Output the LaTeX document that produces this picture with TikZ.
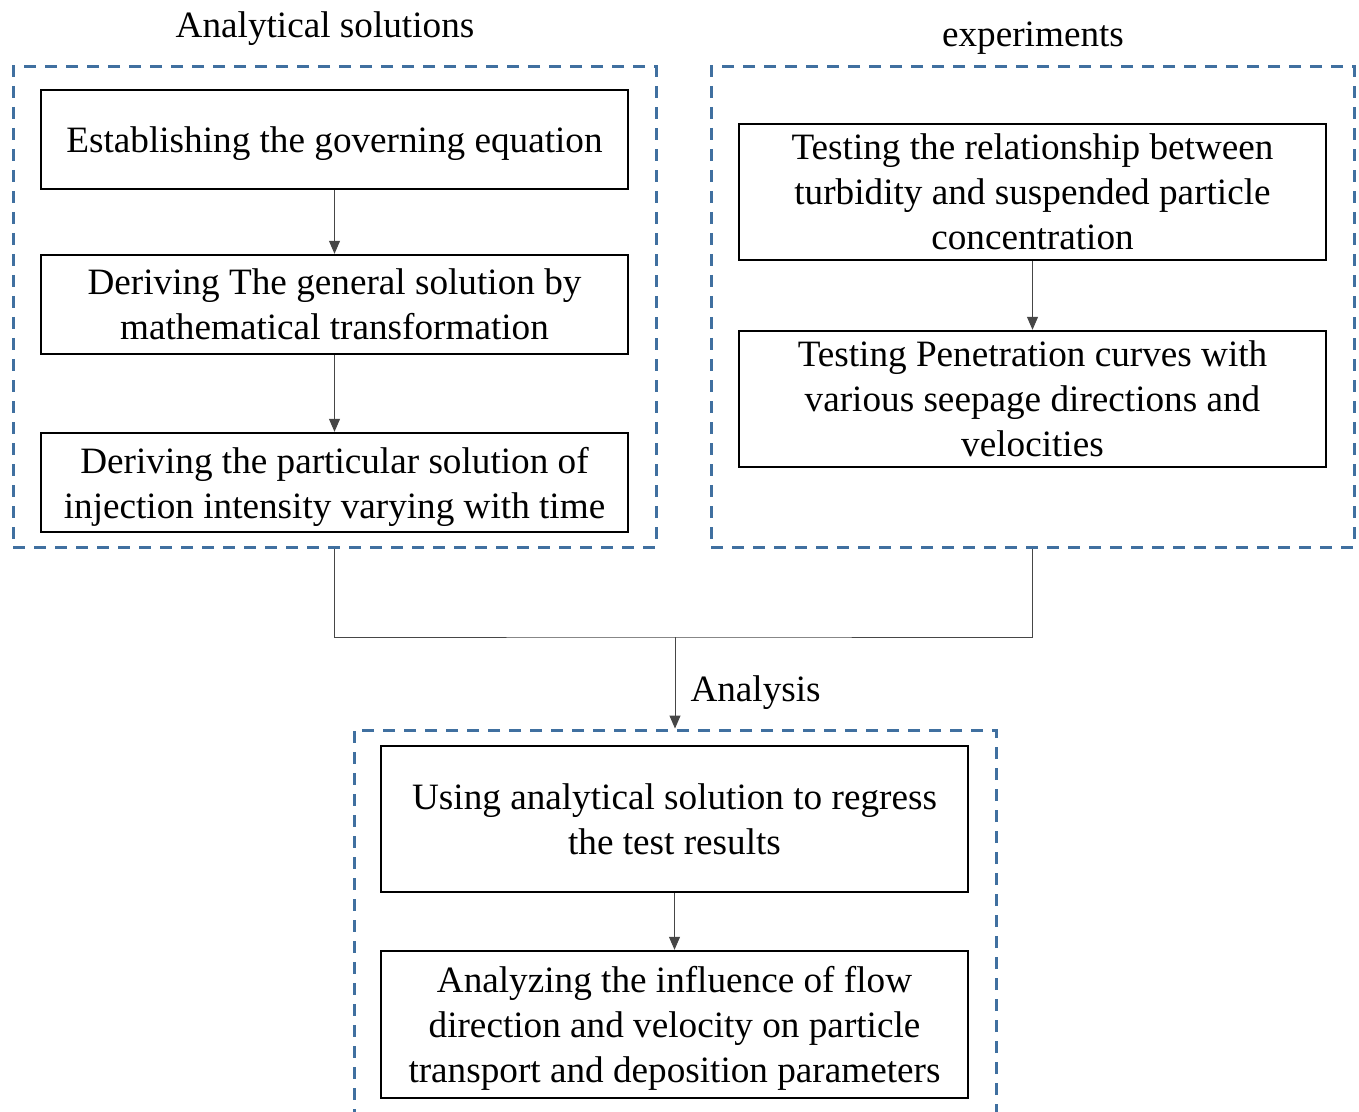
\documentclass[tikz,border=0pt]{standalone}
\usepackage{fontspec}
\setmainfont{Liberation Serif}
\usetikzlibrary{arrows.meta}
\definecolor{dashblue}{RGB}{64,112,160}
\definecolor{linegray}{RGB}{70,70,70}

\begin{document}
\begin{tikzpicture}[x=0.5pt, y=-0.5pt, >={Triangle[length=6.5pt,width=5.5pt]},
    font=\fontsize{18.6}{22.5}\selectfont]
    \useasboundingbox (0,0) rectangle (1359,1112);
    \begin{scope}
        \tikzstyle{every node}=[draw=dashblue, line width=1.5pt, dash pattern=on 6pt off 4.5pt, inner sep=0pt]
        \node[minimum width=321.5pt, minimum height=240pt] (gl) at (334.5,307) {};
        \node[minimum width=321.5pt, minimum height=240pt] (gr) at (1032.5,307) {};
        \node[minimum width=321pt, minimum height=197.5pt] (gb) at (675,927.5) {};
    \end{scope}
    \begin{scope}
        \tikzstyle{every node}=[anchor=base, inner sep=0pt]
        \node (tl) at (325,38) {Analytical solutions};
        \node (tr) at (1033,47) {experiments};
    \end{scope}
    \begin{scope}
        \tikzstyle{every node}=[fill=white, draw=black, line width=1.2pt, minimum width=293.5pt, align=center, inner sep=0pt, text depth=0pt]
        \node[minimum height=49.5pt] (a1) at (334.5,139.5) {Establishing the governing equation};
        \node[minimum height=49.5pt] (a2) at (334.5,304.5) {Deriving The general solution by\\mathematical transformation};
        \node[minimum height=49.5pt] (a3) at (334.5,482.5) {Deriving the particular solution of\\injection intensity varying with time};
        \node[minimum height=68pt] (e1) at (1032.5,192) {Testing the relationship between\\turbidity and suspended particle\\concentration};
        \node[minimum height=68pt] (e2) at (1032.5,399) {Testing Penetration curves with\\various seepage directions and\\velocities};
        \node[minimum height=73pt] (b1) at (674.5,819) {Using analytical solution to regress\\the test results};
        \node[minimum height=73.5pt] (b2) at (674.5,1024.5) {Analyzing the influence of flow\\direction and velocity on particle\\transport and deposition parameters};
    \end{scope}
    \coordinate (m) at (675,637);
    \begin{scope}
        \tikzstyle{every edge}=[draw, line width=0.5pt, linegray, ->]
        \path
        (a1) edge (a2)
        (a2) edge (a3)
        (e1) edge (e2)
        (b1) edge (b2)
        (m) edge node[right, inner sep=0pt, xshift=7.5pt, yshift=-5pt, text=black] {Analysis} (gb.north)
        ;
        \draw[line width=0.5pt, linegray] (gl.south) |- (m) -| (gr.south);
    \end{scope}
\end{tikzpicture}
\end{document}
